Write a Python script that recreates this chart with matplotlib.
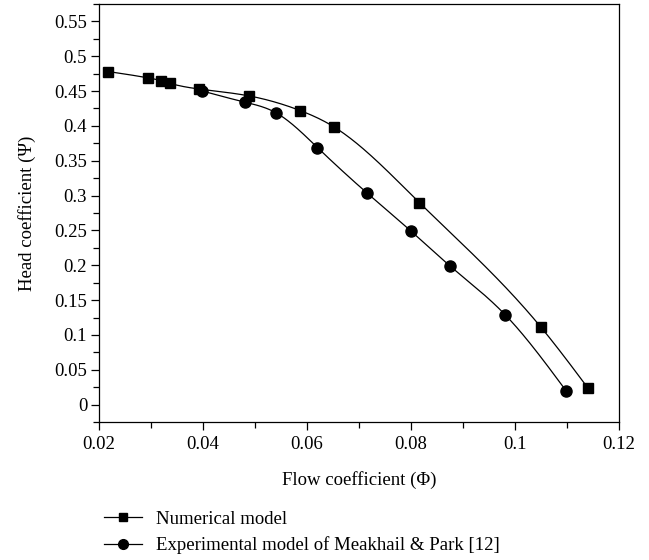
import numpy as np
import matplotlib.pyplot as plt

# Head coefficient vs flow coefficient
phi_num = [0.0218, 0.0294, 0.0319, 0.0337, 0.0392, 0.0489, 0.0587, 0.0651, 0.0816, 0.1050, 0.1140]
psi_num = [0.478, 0.469, 0.465, 0.461, 0.453, 0.443, 0.422, 0.399, 0.290, 0.111, 0.024]

phi_exp = [0.0399, 0.0481, 0.0540, 0.0620, 0.0715, 0.0800, 0.0875, 0.0981, 0.1099]
psi_exp = [0.450, 0.434, 0.419, 0.369, 0.304, 0.249, 0.199, 0.129, 0.019]

xticks = [0.02, 0.04, 0.06, 0.08, 0.1, 0.12]
xticklabels = ["0.02", "0.04", "0.06", "0.08", "0.1", "0.12"]
yticks = [0, 0.05, 0.1, 0.15, 0.2, 0.25, 0.3, 0.35, 0.4, 0.45, 0.5, 0.55]
yticklabels = ["0", "0.05", "0.1", "0.15", "0.2", "0.25", "0.3", "0.35", "0.4", "0.45", "0.5", "0.55"]


def spline(x, y, n=300):
    # natural cubic spline through the points (x increasing)
    x = np.asarray(x, float)
    y = np.asarray(y, float)
    m = len(x)
    h = np.diff(x)
    A = np.zeros((m, m))
    b = np.zeros(m)
    A[0, 0] = A[-1, -1] = 1
    for i in range(1, m - 1):
        A[i, i - 1] = h[i - 1]
        A[i, i] = 2 * (h[i - 1] + h[i])
        A[i, i + 1] = h[i]
        b[i] = 6 * ((y[i + 1] - y[i]) / h[i] - (y[i] - y[i - 1]) / h[i - 1])
    M = np.linalg.solve(A, b)
    xs = np.linspace(x[0], x[-1], n)
    k = np.clip(np.searchsorted(x, xs) - 1, 0, m - 2)
    t0 = x[k + 1] - xs
    t1 = xs - x[k]
    ys = (M[k] * t0 ** 3 + M[k + 1] * t1 ** 3) / (6 * h[k]) \
        + (y[k] / h[k] - M[k] * h[k] / 6) * t0 \
        + (y[k + 1] / h[k] - M[k + 1] * h[k] / 6) * t1
    return xs, ys


plt.rcParams['font.family'] = ['Liberation Serif', 'DejaVu Serif']
plt.rcParams['font.size'] = 13.5

fig = plt.figure(figsize=(6.49, 5.6), dpi=100)
ax = fig.add_axes([0.1525, 0.2464, 0.8013, 0.7465])

sx, sy = spline(phi_num, psi_num)
ax.plot(sx, sy, color='black', lw=0.9)
ax.plot(phi_num, psi_num, 's', color='black', ms=7, ls='none')
sx, sy = spline(phi_exp, psi_exp)
ax.plot(sx, sy, color='black', lw=0.9)
ax.plot(phi_exp, psi_exp, 'o', color='black', ms=8, ls='none')

# legend handles
h1, = ax.plot([], [], '-s', color='black', lw=0.9, ms=6)
h2, = ax.plot([], [], '-o', color='black', lw=0.9, ms=7)
fig.legend([h1, h2], ["Numerical model", "Experimental model of Meakhail & Park [12]"],
           loc='upper left', bbox_to_anchor=(0.135, 0.118), frameon=False,
           handlelength=2.0, handletextpad=0.75, labelspacing=0.45, fontsize=13.5)

ax.set_xlim(0.02, 0.12)
ax.set_ylim(-0.025, 0.575)
ax.set_xticks(xticks)
ax.set_xticklabels(xticklabels)
ax.set_yticks(yticks)
ax.set_yticklabels(yticklabels)
ax.set_xticks(np.arange(0.03, 0.12, 0.02), minor=True)
ax.set_yticks(np.arange(-0.025, 0.58, 0.05), minor=True)
ax.tick_params(which='both', direction='out', top=False, right=False, width=0.9)
ax.tick_params(which='major', length=6)
ax.tick_params(which='minor', length=4)
ax.tick_params(axis='y', which='major', pad=2.5)
ax.tick_params(axis='x', which='major', pad=4)
for s in ax.spines.values():
    s.set_linewidth(0.9)

ax.set_xlabel("Flow coefficient (\u03a6)", labelpad=13)
ax.set_ylabel("Head coefficient (\u03a8)", labelpad=13)

fig.savefig("out.png", dpi=100)
